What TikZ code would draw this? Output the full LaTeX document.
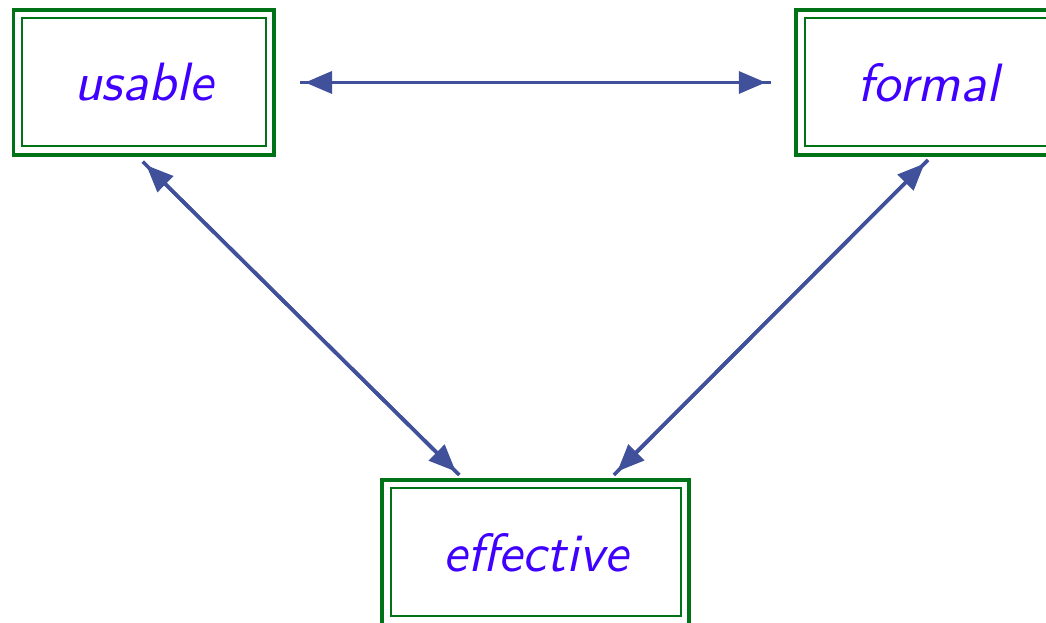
\documentclass[tikz,border=0pt]{standalone}
\usepackage{fontspec}
\newfontfamily\conceptfont{lmsans10-oblique.otf}
\usetikzlibrary{arrows.meta,calc}
\definecolor{boxgreen}{RGB}{0,115,25}
\definecolor{txtblue}{RGB}{64,0,255}
\definecolor{arrblue}{RGB}{64,80,155}
\tikzset{
  conceptbox/.style={draw=boxgreen, line width=3.7pt, outer sep=0pt, inner sep=0pt,
    minimum height=145pt, text=txtblue,
    font=\conceptfont\fontsize{54}{60}\selectfont},
  innerframe/.style={draw=boxgreen, line width=2pt},
  link/.style={draw=arrblue, line width=3.6pt},
  linkhead/.style={draw=arrblue, line width=3.6pt,
    {Triangle[length=27pt,width=22pt]}-{Triangle[length=27pt,width=22pt]},
    shorten <=5pt, shorten >=5pt}
}
\begin{document}
\begin{tikzpicture}[x=1pt,y=1pt]
\useasboundingbox (0,0) rectangle (1046,623);
\node[conceptbox, minimum width=260.5pt] (u) at (143.75,540.5) {usable};
\node[conceptbox, minimum width=264.5pt] (f) at (928.5,540.5) {formal};
\node[conceptbox, minimum width=307pt] (e) at (535.8,70.5) {effective};
\foreach \n in {u,f,e}{
  \draw[innerframe] ([shift={(8.5,-8.5)}]\n.north west) rectangle ([shift={(-8.5,8.5)}]\n.south east);
}
% horizontal
\draw[link] ([shift={(26,0)}]u.east) -- ([shift={(-25.5,0)}]f.west);
\draw[linkhead] ([shift={(26,0)}]u.east) -- ([shift={(-25.5,0)}]f.west);
% left diagonal
\draw[link] ([shift={(-1,-6.7)}]u.south) -- ([shift={(-76.5,5)}]e.north);
\draw[linkhead] ([shift={(-1,-6.7)}]u.south) -- ([shift={(-76.5,5)}]e.north);
% right diagonal
\draw[link] ([shift={(-0.5,-5)}]f.south) -- ([shift={(78,5)}]e.north);
\draw[linkhead] ([shift={(-0.5,-5)}]f.south) -- ([shift={(78,5)}]e.north);
\end{tikzpicture}
\end{document}
